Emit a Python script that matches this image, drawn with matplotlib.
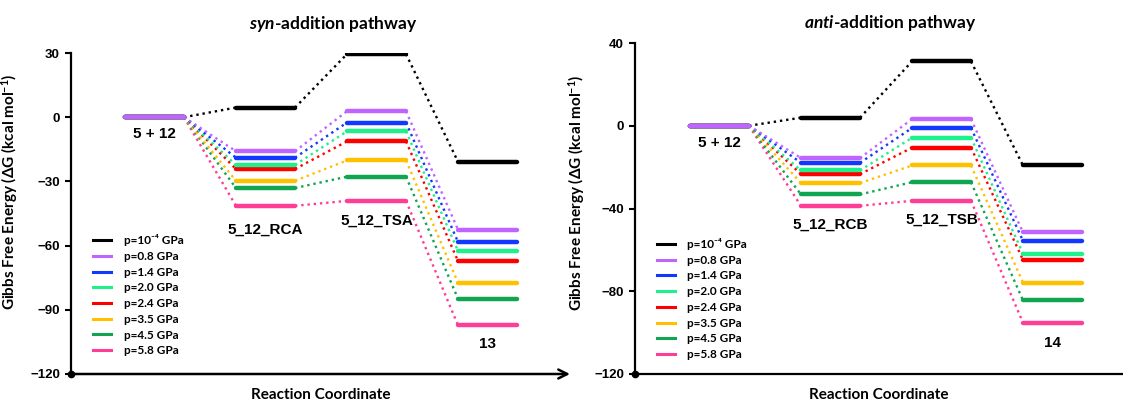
import matplotlib
matplotlib.use("Agg")
import matplotlib.pyplot as plt
from matplotlib.lines import Line2D

plt.rcParams['font.family'] = ['Lato', 'DejaVu Sans']
plt.rcParams['font.weight'] = 'bold'
plt.rcParams['mathtext.fontset'] = 'custom'
plt.rcParams['mathtext.rm'] = 'Lato:bold'
plt.rcParams['mathtext.it'] = 'Lato:italic:bold'
plt.rcParams['mathtext.bf'] = 'Lato:bold'

# === data (kcal/mol) ===
pressures = ["p=10⁻⁴ GPa", "p=0.8 GPa", "p=1.4 GPa", "p=2.0 GPa",
             "p=2.4 GPa", "p=3.5 GPa", "p=4.5 GPa", "p=5.8 GPa"]
colors = ["#000000", "#c064ff", "#1238ff", "#1ef08c",
          "#ff0000", "#ffc000", "#10a550", "#ff3d96"]

syn_states = ["5 + 12", "5_12_RCA", "5_12_TSA", "13"]
syn_react = [0, 0, 0, 0, 0, 0, 0, 0]
syn_rc = [4.5, -15.9, -18.9, -22.3, -24.2, -29.7, -33.1, -41.4]
syn_ts = [29.5, 2.8, -2.5, -6.6, -11.3, -20.2, -27.8, -39.1]
syn_prod = [-20.8, -52.5, -58.3, -62.5, -67.2, -77.3, -84.8, -97.2]

anti_states = ["5 + 12", "5_12_RCB", "5_12_TSB", "14"]
anti_react = [0, 0, 0, 0, 0, 0, 0, 0]
anti_rc = [3.9, -15.6, -17.9, -21.6, -23.4, -27.7, -33.2, -38.7]
anti_ts = [31.1, 3.2, -1.1, -5.8, -10.6, -19.2, -27.3, -36.3]
anti_prod = [-19.2, -51.5, -55.6, -61.8, -64.8, -75.8, -84.4, -95.2]

# state label heights (data units)
syn_label_y = [-8, -52.5, -48.5, -106]
anti_label_y = [-8.5, -48, -45.5, -105]

HW = 0.266  # half width of a level


def draw_panel(ax, levels, states, label_y):
    n = len(colors)
    for i in range(n):
        z = 2 if i == 0 else 3 + (n - i)
        ys = [lv[i] for lv in levels]
        for k, y in enumerate(ys):
            ax.plot([k - HW, k + HW], [y, y], color=colors[i], lw=3.2,
                    solid_capstyle='round', zorder=z)
            if k < len(ys) - 1:
                ax.plot([k + HW, k + 1 - HW], [y, ys[k + 1]], color=colors[i],
                        lw=1.7, ls=':', zorder=z - 0.5)
    for k, s in enumerate(states):
        ax.text(k, label_y[k], s, ha='center', va='center', fontsize=11,
                fontweight='bold', family=['Liberation Sans', 'DejaVu Sans'])

    handles = [Line2D([], [], color=c, lw=2.2) for c in colors]
    return handles


fig = plt.figure(figsize=(11.23, 4.03), dpi=100)
ax1 = fig.add_axes([71 / 1123, 29 / 403, 499 / 1123, 321 / 403])
ax2 = fig.add_axes([635 / 1123, 29 / 403, 488 / 1123, 331 / 403])

h1 = draw_panel(ax1, [syn_react, syn_rc, syn_ts, syn_prod], syn_states, syn_label_y)
h2 = draw_panel(ax2, [anti_react, anti_rc, anti_ts, anti_prod], anti_states, anti_label_y)

ax1.set_xlim(-0.752, 3.743)
ax1.set_ylim(-120, 30)
ax1.set_yticks([-120, -90, -60, -30, 0, 30])
ax2.set_xlim(-0.761, 3.635)
ax2.set_ylim(-120, 40)
ax2.set_yticks([-120, -80, -40, 0, 40])

for ax in (ax1, ax2):
    ax.spines['top'].set_visible(False)
    ax.spines['right'].set_visible(False)
    ax.spines['left'].set_linewidth(1.6)
    ax.spines['bottom'].set_linewidth(1.6)
    ax.set_xticks([])
    ax.tick_params(axis='y', length=4, width=1.5, pad=4)
    for t in ax.get_yticklabels():
        t.set_fontfamily(['Liberation Sans', 'DejaVu Sans'])
        t.set_fontweight('bold')
        t.set_fontsize(9.5)
    ax.set_ylabel("Gibbs Free Energy (ΔG (kcal mol$^{-1}$)", fontsize=11,
                  fontweight='bold')
    ax.set_xlabel("Reaction Coordinate", fontsize=11, fontweight='bold', labelpad=10)
    ax.plot(0, 0, 'o', color='k', ms=4.5, transform=ax.transAxes, clip_on=False, zorder=20)

# arrow on the left x axis
ax1.spines['bottom'].set_visible(False)
ax1.annotate('', xy=(1, 0), xytext=(0, 0), xycoords='axes fraction',
             arrowprops=dict(arrowstyle='->', lw=1.8, color='k', mutation_scale=16,
                             shrinkA=0, shrinkB=0))

ax1.yaxis.set_label_coords(-0.102, 0.567)
ax2.yaxis.set_label_coords(-0.098, 0.547)

ax1.set_title("$\\it{syn}$-addition pathway", fontsize=12.5, fontweight='bold',
              x=(333 - 71) / 499, y=1.05)
ax2.set_title("$\\it{anti}$-addition pathway", fontsize=12.5, fontweight='bold',
              x=(890 - 635) / 488, y=1.02)

leg_font = {'family': ['Lato', 'DejaVu Sans'], 'weight': 'bold', 'size': 8.5}
ax1.legend(h1, pressures, loc='upper left', bbox_to_anchor=(0.035, 0.45),
           frameon=False, prop=leg_font, handlelength=1.5, handletextpad=1.1,
           labelspacing=0.4, borderaxespad=0)
ax2.legend(h2, pressures, loc='upper left', bbox_to_anchor=(0.035, 0.425),
           frameon=False, prop=leg_font, handlelength=1.5, handletextpad=1.1,
           labelspacing=0.4, borderaxespad=0)

fig.savefig("out.png", dpi=100)
